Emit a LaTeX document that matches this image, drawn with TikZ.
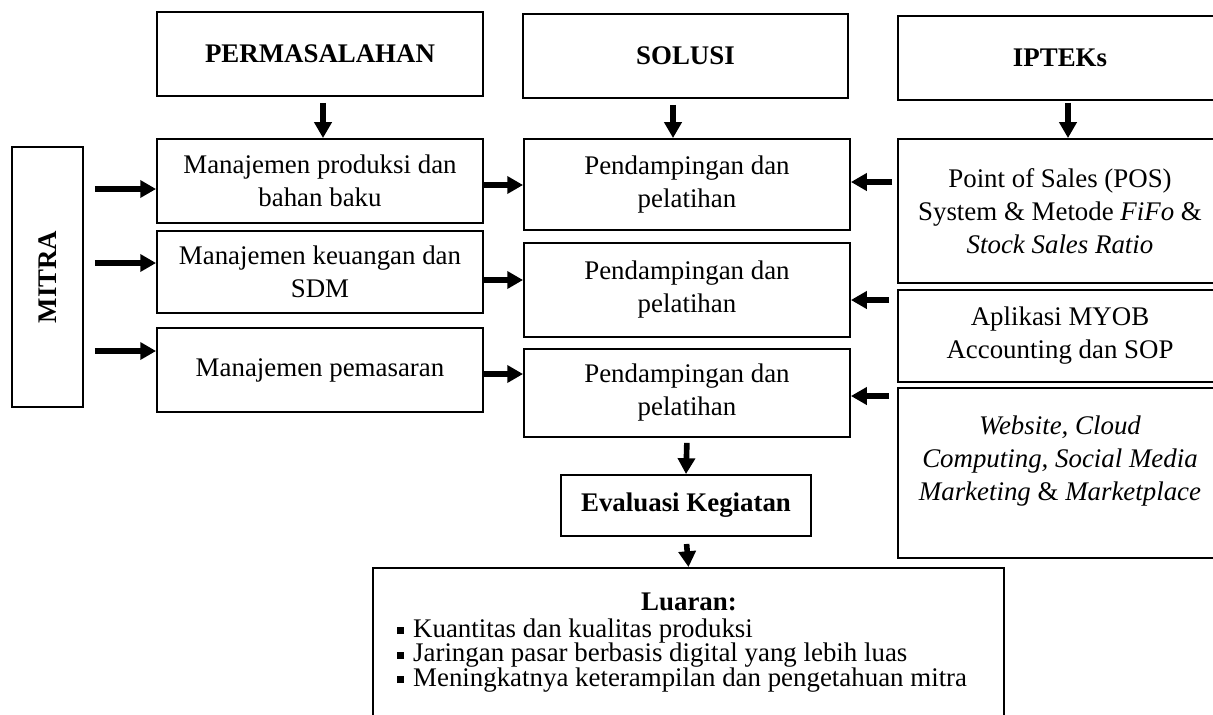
\documentclass[tikz,border=0pt]{standalone}
\usepackage{fontspec}
\setmainfont{Liberation Serif}
\usetikzlibrary{arrows.meta}

\newcommand{\sqitem}{\raisebox{1.6pt}{\rule{4pt}{4pt}}\hspace{5pt}}

\begin{document}
\begin{tikzpicture}[x=0.02cm, y=-0.02cm,
  box/.style={draw, line width=1.1pt, align=center, inner sep=0pt},
  arr/.style={line width=3.2pt, -{Triangle[length=9pt,width=9.6pt]}},
  font=\fontsize{15.3}{18.8}\selectfont]

\useasboundingbox (0,0) rectangle (1213,714);
\clip (0,0) rectangle (1213,714);

% headings
\node[box, minimum width=6.52cm, minimum height=1.68cm] (perm) at (320,54) {\textbf{PERMASALAHAN}};
\node[box, minimum width=6.5cm, minimum height=1.68cm] (sol) at (685.5,56) {\textbf{SOLUSI}};
\node[box, minimum width=6.48cm, minimum height=1.68cm] (ipt) at (1060,58) {\textbf{IPTEKs}};

\node[box, minimum width=1.42cm, minimum height=5.2cm] (mitra) at (47.5,277) {\rotatebox{90}{\textbf{MITRA}}};

% permasalahan
\node[box, minimum width=6.52cm, minimum height=1.68cm] (prod) at (320,181) {Manajemen produksi dan\\ bahan baku};
\node[box, minimum width=6.52cm, minimum height=1.64cm] (keu) at (320,272) {Manajemen keuangan dan\\ SDM};
\node[box, minimum width=6.52cm, minimum height=1.68cm] (pem) at (320,370) {Manajemen pemasaran};

% solusi
\node[box, minimum width=6.52cm, minimum height=1.82cm] (pend1) at (687,184.5) {Pendampingan dan\\ pelatihan};
\node[box, minimum width=6.52cm, minimum height=1.88cm] (pend2) at (687,290) {Pendampingan dan\\ pelatihan};
\node[box, minimum width=6.52cm, minimum height=1.76cm] (pend3) at (687,393) {Pendampingan dan\\ pelatihan};

% ipteks
\node[box, minimum width=6.48cm, minimum height=2.88cm] (pos) at (1060,211) {Point of Sales (POS)\\ System \& Metode \textit{FiFo} \&\\ \textit{Stock Sales Ratio}};
\node[box, minimum width=6.48cm, minimum height=1.84cm] (myob) at (1060,336) {Aplikasi MYOB\\ Accounting dan SOP};
\node[box, minimum width=6.48cm, minimum height=3.4cm] (web) at (1060,473) {};
\node[align=center, inner sep=0pt] (webtxt) at (1060,461) {\textit{Website, Cloud}\\ \textit{Computing, Social Media}\\ \textit{Marketing} \& \textit{Marketplace}};

\node[box, minimum width=5cm, minimum height=1.22cm] (eval) at (686,505.5) {\textbf{Evaluasi Kegiatan}};

% luaran
\node[box, minimum width=12.62cm, minimum height=3.48cm] (luaran) at (688.5,655) {};
\node[inner sep=0pt] (luarantitle) at (689,602) {\textbf{Luaran:}};
\foreach \txt [count=\i] in {Kuantitas dan kualitas produksi, Jaringan pasar berbasis digital yang lebih luas, Meningkatnya keterampilan dan pengetahuan mitra}
  \node[anchor=base west, inner sep=0pt] (item\i) at (397,612.5+24.5*\i) {\sqitem\txt};

% arrows
\draw[arr, shorten <=3.4pt] ([xshift=0.06cm]perm.south) -- ([xshift=0.06cm]perm.south |- prod.north);
\draw[arr, shorten <=3.4pt] ([xshift=-0.25cm]sol.south) -- ([xshift=-0.25cm]sol.south |- pend1.north);
\draw[arr, shorten <=1pt] ([xshift=0.16cm]ipt.south) -- ([xshift=0.16cm]ipt.south |- pos.north);

\foreach \yy/\dst in {189/prod, 263/keu, 351/pem}
  \draw[arr, shorten <=6.2pt] (mitra.east |- 0,\yy) -- (\dst.west |- 0,\yy);

\draw[arr] (prod.east |- 0,185) -- (pend1.west |- 0,185);
\draw[arr] (keu.east |- 0,280) -- (pend2.west |- 0,280);
\draw[arr] (pem.east |- 0,374) -- (pend3.west |- 0,374);

\draw[arr, shorten <=2.8pt] (pos.west |- 0,182) -- (pend1.east |- 0,182);
\draw[arr, shorten <=4.5pt] (myob.west |- 0,300) -- (pend2.east |- 0,300);
\draw[arr, shorten <=4.5pt] (web.west |- 0,396) -- (pend3.east |- 0,396);

\draw[arr, shorten <=2.8pt] (pend3.south) -- (eval.north);
\draw[arr, shorten <=4pt] (eval.south) -- (luaran.north);
\end{tikzpicture}
\end{document}
